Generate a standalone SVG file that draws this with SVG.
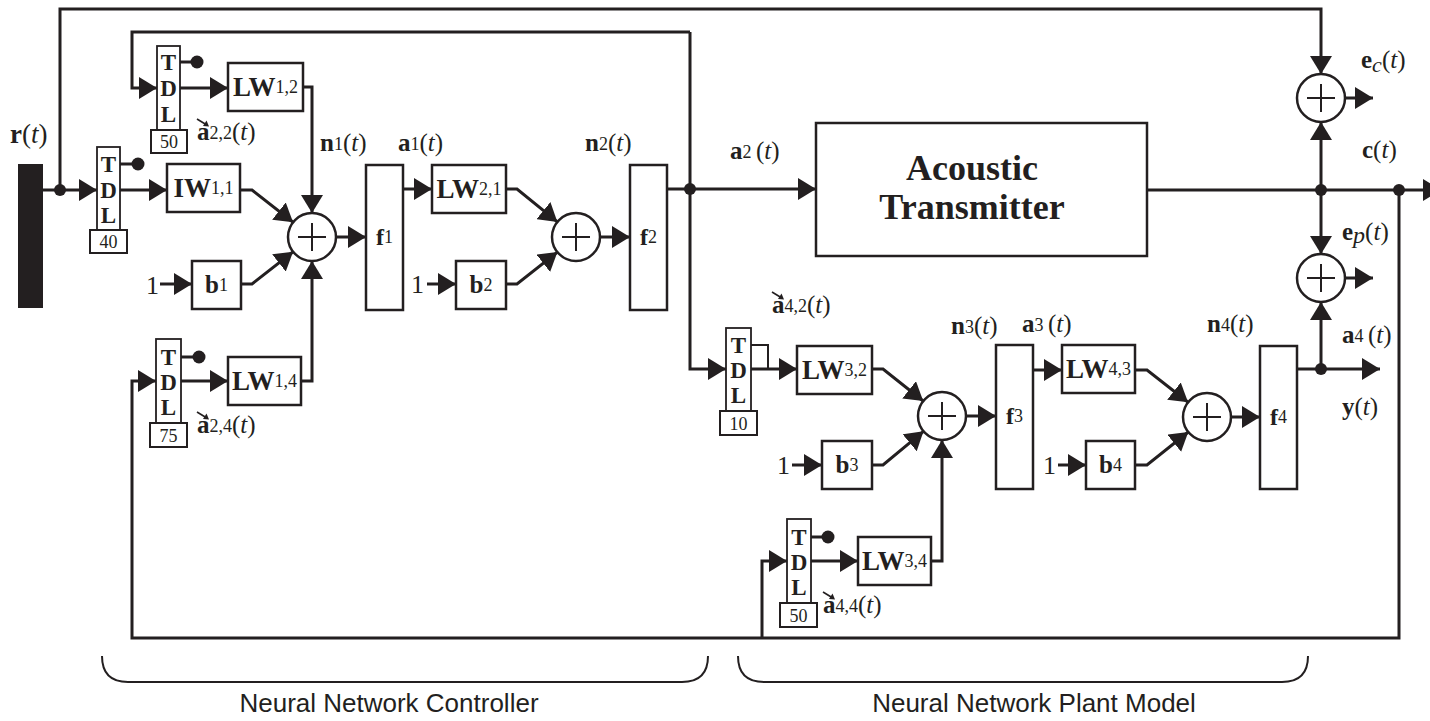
<svg xmlns="http://www.w3.org/2000/svg" xmlns:xlink="http://www.w3.org/1999/xlink" width="1430" height="721" viewBox="0 0 1430 721">
<style>
.ln{fill:none;stroke:#231f20;stroke-width:3}
.thin{fill:none;stroke:#231f20;stroke-width:2}
.bx{fill:#fff;stroke:#231f20;stroke-width:2.5}
.tdl{fill:#fff;stroke:#231f20;stroke-width:1.8}
.dot{fill:#231f20}
.s{font-family:"Liberation Serif","Times New Roman",serif;fill:#231f20}
.lb{font-size:25px}
.bl{font-weight:bold}
.box{font-size:27px;text-anchor:middle}
.sub{font-size:18px;font-weight:normal}
.tl{font-size:23px;font-weight:bold;text-anchor:middle}
.num{font-size:18px;text-anchor:middle}
.cap{font-family:"Liberation Sans",Arial,sans-serif;font-size:26px;fill:#231f20;text-anchor:middle}
</style>
<defs>
<marker id="ah" viewBox="0 0 18 22" refX="18" refY="11" markerWidth="18" markerHeight="22" markerUnits="userSpaceOnUse" orient="auto"><path d="M0,0L18,11L0,22z" fill="#231f20"/></marker>
<g id="vec"><path d="M0,-21 L9,-15.5" fill="none" stroke="#231f20" stroke-width="1.6"/><polygon points="12,-13.5 6,-14 9.5,-19.5" fill="#231f20"/></g>
<g id="plus"><circle r="24" class="bx"/><path d="M-14,0H14M0,-14V14" class="thin"/></g>
</defs>

<g id="connectors">
<path class="ln" d="M60,190V9H1321V74" marker-end="url(#ah)"/>
<path class="ln" d="M43,190H97" marker-end="url(#ah)"/>
<path class="ln" d="M690,32H132V88H157" marker-end="url(#ah)"/>
<path class="ln" d="M690,32V369H726" marker-end="url(#ah)"/>
<path class="ln" d="M180,62H197"/>
<path class="ln" d="M180,88H228" marker-end="url(#ah)"/>
<path class="ln" d="M303,87H312V213" marker-end="url(#ah)"/>
<path class="ln" d="M120,164H138"/>
<path class="ln" d="M120,190H167" marker-end="url(#ah)"/>
<path class="ln" d="M240,190H252L293.1,222.2" marker-end="url(#ah)"/>
<path class="ln" d="M160,284H192" marker-end="url(#ah)"/>
<path class="ln" d="M241,284H252L293.1,251.8" marker-end="url(#ah)"/>
<path class="ln" d="M181,357H199"/>
<path class="ln" d="M181,381H228" marker-end="url(#ah)"/>
<path class="ln" d="M301,381H312V261" marker-end="url(#ah)"/>
<path class="ln" d="M1399,190V638H132V381H156" marker-end="url(#ah)"/>
<path class="ln" d="M336,237H366" marker-end="url(#ah)"/>
<path class="ln" d="M403,189H432" marker-end="url(#ah)"/>
<path class="ln" d="M506,189H517L557.4,221.9" marker-end="url(#ah)"/>
<path class="ln" d="M427,284H456" marker-end="url(#ah)"/>
<path class="ln" d="M506,284H517L557.4,252.1" marker-end="url(#ah)"/>
<path class="ln" d="M600,237H630" marker-end="url(#ah)"/>
<path class="ln" d="M667,189H816" marker-end="url(#ah)"/>
<path class="ln" d="M1147,190H1441" marker-end="url(#ah)"/>
<path class="ln" d="M1321,190V122" marker-end="url(#ah)"/>
<path class="ln" d="M1345,98H1373" marker-end="url(#ah)"/>
<path class="ln" d="M1321,190V254" marker-end="url(#ah)"/>
<path class="ln" d="M1345,278H1373" marker-end="url(#ah)"/>
<path class="thin" d="M751,345H768V369"/>
<path class="ln" d="M751,369H797" marker-end="url(#ah)"/>
<path class="ln" d="M872,369H883L923.2,401" marker-end="url(#ah)"/>
<path class="ln" d="M792,465H822" marker-end="url(#ah)"/>
<path class="ln" d="M872,465H883L923.5,431.3" marker-end="url(#ah)"/>
<path class="ln" d="M762,638V561H787" marker-end="url(#ah)"/>
<path class="ln" d="M811,537H828"/>
<path class="ln" d="M811,561H858" marker-end="url(#ah)"/>
<path class="ln" d="M931,561H942V440" marker-end="url(#ah)"/>
<path class="ln" d="M966,416H996" marker-end="url(#ah)"/>
<path class="ln" d="M1033,370H1062" marker-end="url(#ah)"/>
<path class="ln" d="M1135,370H1147L1188.1,402.2" marker-end="url(#ah)"/>
<path class="ln" d="M1058,465H1086" marker-end="url(#ah)"/>
<path class="ln" d="M1135,465H1147L1188.3,432" marker-end="url(#ah)"/>
<path class="ln" d="M1231,417H1260" marker-end="url(#ah)"/>
<path class="ln" d="M1297,369H1380" marker-end="url(#ah)"/>
<path class="ln" d="M1321,369V302" marker-end="url(#ah)"/>
<circle class="dot" cx="60" cy="190" r="6"/>
<circle class="dot" cx="197" cy="62" r="6.5"/>
<circle class="dot" cx="138" cy="164" r="6.5"/>
<circle class="dot" cx="199" cy="357" r="6.5"/>
<circle class="dot" cx="690" cy="189" r="6"/>
<circle class="dot" cx="1321" cy="190" r="6"/>
<circle class="dot" cx="1399" cy="190" r="6"/>
<circle class="dot" cx="828" cy="537" r="6.5"/>
<circle class="dot" cx="1321" cy="369" r="6"/>
</g>

<g id="input-bar"><rect x="18" y="164" width="25" height="144" fill="#231f20"/></g>

<g id="tdl-r"><rect class="tdl" x="97" y="147" width="23" height="83"/><text class="s tl" x="108.5" y="172">T</text><text class="s tl" x="108.5" y="198">D</text><text class="s tl" x="108.5" y="223">L</text><rect class="bx" x="90" y="230" width="37" height="23" style="stroke-width:2"/><text class="s num" x="108.5" y="248">40</text></g>
<g id="tdl-a22"><rect class="tdl" x="157" y="46" width="23" height="84"/><text class="s tl" x="168.5" y="70">T</text><text class="s tl" x="168.5" y="96">D</text><text class="s tl" x="168.5" y="122">L</text><rect class="bx" x="151" y="130" width="36" height="23" style="stroke-width:2"/><text class="s num" x="169" y="148">50</text></g>
<g id="tdl-a24"><rect class="tdl" x="156" y="339" width="25" height="84"/><text class="s tl" x="168.5" y="365">T</text><text class="s tl" x="168.5" y="390">D</text><text class="s tl" x="168.5" y="415">L</text><rect class="bx" x="150" y="423" width="37" height="24" style="stroke-width:2"/><text class="s num" x="168.5" y="442">75</text></g>
<g id="tdl-a42"><rect class="tdl" x="726" y="328" width="25" height="83"/><text class="s tl" x="738.5" y="353">T</text><text class="s tl" x="738.5" y="378">D</text><text class="s tl" x="738.5" y="403">L</text><rect class="bx" x="720" y="411" width="37" height="24" style="stroke-width:2"/><text class="s num" x="738.5" y="430">10</text></g>
<g id="tdl-a44"><rect class="tdl" x="787" y="519" width="24" height="84"/><text class="s tl" x="799" y="545">T</text><text class="s tl" x="799" y="570">D</text><text class="s tl" x="799" y="595">L</text><rect class="bx" x="780" y="603" width="37" height="24" style="stroke-width:2"/><text class="s num" x="798.5" y="622">50</text></g>

<g id="LW12"><rect class="bx" x="228" y="63" width="75" height="48"/><text class="s box bl" x="265.5" y="96">LW<tspan class="sub" dy="-3">1,2</tspan></text></g>
<g id="IW11"><rect class="bx" x="167" y="164" width="73" height="48"/><text class="s box bl" x="203.5" y="197">IW<tspan class="sub" dy="-3">1,1</tspan></text></g>
<g id="b1"><rect class="bx" x="192" y="261" width="49" height="48"/><text class="s bl" x="216.5" y="293" style="font-size:25px;text-anchor:middle">b<tspan class="sub" dy="-2">1</tspan></text><text class="s" x="146" y="294" style="font-size:26px">1</text></g>
<g id="LW14"><rect class="bx" x="228" y="357" width="73" height="48"/><text class="s box bl" x="264.5" y="390">LW<tspan class="sub" dy="-3">1,4</tspan></text></g>
<g id="sum1" transform="translate(312,237)"><use xlink:href="#plus"/></g>
<g id="f1"><rect class="bx" x="366" y="165" width="37" height="145"/><text class="s bl" x="384.5" y="245" style="font-size:24px;text-anchor:middle">f<tspan class="sub" dy="-2">1</tspan></text></g>
<g id="LW21"><rect class="bx" x="432" y="165" width="74" height="48"/><text class="s box bl" x="469" y="198">LW<tspan class="sub" dy="-3">2,1</tspan></text></g>
<g id="b2"><rect class="bx" x="456" y="261" width="50" height="48"/><text class="s bl" x="481" y="293" style="font-size:25px;text-anchor:middle">b<tspan class="sub" dy="-2">2</tspan></text><text class="s" x="411" y="293" style="font-size:26px">1</text></g>
<g id="sum2" transform="translate(576,237)"><use xlink:href="#plus"/></g>
<g id="f2"><rect class="bx" x="630" y="165" width="37" height="145"/><text class="s bl" x="648.5" y="245" style="font-size:24px;text-anchor:middle">f<tspan class="sub" dy="-2">2</tspan></text></g>
<g id="acoustic"><rect class="bx" x="816" y="123" width="331" height="133"/><text class="s bl" x="972" y="180" style="font-size:36px;text-anchor:middle">Acoustic</text><text class="s bl" x="972" y="219" style="font-size:36px;text-anchor:middle">Transmitter</text></g>
<g id="sum-ec" transform="translate(1321,98)"><use xlink:href="#plus"/></g>
<g id="sum-ep" transform="translate(1321,278)"><use xlink:href="#plus"/></g>
<g id="LW32"><rect class="bx" x="797" y="346" width="75" height="48"/><text class="s box bl" x="834.5" y="379">LW<tspan class="sub" dy="-3">3,2</tspan></text></g>
<g id="b3"><rect class="bx" x="822" y="441" width="50" height="48"/><text class="s bl" x="847" y="473" style="font-size:25px;text-anchor:middle">b<tspan class="sub" dy="-2">3</tspan></text><text class="s" x="777" y="474" style="font-size:26px">1</text></g>
<g id="LW34"><rect class="bx" x="858" y="537" width="73" height="48"/><text class="s box bl" x="894.5" y="570">LW<tspan class="sub" dy="-3">3,4</tspan></text></g>
<g id="sum3" transform="translate(942,416)"><use xlink:href="#plus"/></g>
<g id="f3"><rect class="bx" x="996" y="345" width="37" height="144"/><text class="s bl" x="1014.5" y="424" style="font-size:24px;text-anchor:middle">f<tspan class="sub" dy="-2">3</tspan></text></g>
<g id="LW43"><rect class="bx" x="1062" y="345" width="73" height="48"/><text class="s box bl" x="1098.5" y="378">LW<tspan class="sub" dy="-3">4,3</tspan></text></g>
<g id="b4"><rect class="bx" x="1086" y="441" width="49" height="48"/><text class="s bl" x="1110.5" y="473" style="font-size:25px;text-anchor:middle">b<tspan class="sub" dy="-2">4</tspan></text><text class="s" x="1043" y="474" style="font-size:26px">1</text></g>
<g id="sum4" transform="translate(1207,417)"><use xlink:href="#plus"/></g>
<g id="f4"><rect class="bx" x="1260" y="346" width="37" height="143"/><text class="s bl" x="1278.5" y="425" style="font-size:24px;text-anchor:middle">f<tspan class="sub" dy="-2">4</tspan></text></g>

<g id="labels">
<text class="s lb" x="10" y="143" style="font-size:27px"><tspan class="bl">r</tspan>(<tspan font-style="italic">t</tspan>)</text>
<use xlink:href="#vec" x="197" y="140"/>
<text class="s lb" x="197" y="140"><tspan class="bl">a</tspan><tspan class="sub" dy="-1">2,2</tspan><tspan dy="1">(</tspan><tspan font-style="italic">t</tspan>)</text>
<use xlink:href="#vec" x="197" y="433"/>
<text class="s lb" x="197" y="433"><tspan class="bl">a</tspan><tspan class="sub" dy="-1">2,4</tspan><tspan dy="1">(</tspan><tspan font-style="italic">t</tspan>)</text>
<text class="s lb" x="320" y="151"><tspan class="bl">n</tspan><tspan class="sub" dy="-1">1</tspan><tspan dy="1">(</tspan><tspan font-style="italic">t</tspan>)</text>
<text class="s lb" x="398" y="151"><tspan class="bl">a</tspan><tspan class="sub" dy="-1">1</tspan><tspan dy="1">(</tspan><tspan font-style="italic">t</tspan>)</text>
<text class="s lb" x="585" y="151"><tspan class="bl">n</tspan><tspan class="sub" dy="-1">2</tspan><tspan dy="1">(</tspan><tspan font-style="italic">t</tspan>)</text>
<text class="s lb" x="730" y="159"><tspan class="bl">a</tspan><tspan class="sub" dy="-1">2 </tspan><tspan dy="1">(</tspan><tspan font-style="italic">t</tspan>)</text>
<text class="s lb" x="1361" y="68"><tspan class="bl">e</tspan><tspan font-style="italic" dy="4" style="font-size:22px">c</tspan><tspan dy="-4">(</tspan><tspan font-style="italic">t</tspan>)</text>
<text class="s lb" x="1362" y="158"><tspan class="bl">c</tspan>(<tspan font-style="italic">t</tspan>)</text>
<text class="s lb" x="1342" y="240"><tspan class="bl">e</tspan><tspan font-style="italic" dy="3" style="font-size:24px">p</tspan><tspan dy="-3">(</tspan><tspan font-style="italic">t</tspan>)</text>
<text class="s lb" x="1342" y="343"><tspan class="bl">a</tspan><tspan class="sub" dy="-1">4 </tspan><tspan dy="1">(</tspan><tspan font-style="italic">t</tspan>)</text>
<text class="s lb" x="1342" y="415"><tspan class="bl">y</tspan>(<tspan font-style="italic">t</tspan>)</text>
<text class="s lb" x="1207" y="332"><tspan class="bl">n</tspan><tspan class="sub" dy="-1">4</tspan><tspan dy="1">(</tspan><tspan font-style="italic">t</tspan>)</text>
<use xlink:href="#vec" x="772" y="313"/>
<text class="s lb" x="772" y="313"><tspan class="bl">a</tspan><tspan class="sub" dy="-1">4,2</tspan><tspan dy="1">(</tspan><tspan font-style="italic">t</tspan>)</text>
<text class="s lb" x="951" y="334"><tspan class="bl">n</tspan><tspan class="sub" dy="-1">3</tspan><tspan dy="1">(</tspan><tspan font-style="italic">t</tspan>)</text>
<text class="s lb" x="1022" y="332"><tspan class="bl">a</tspan><tspan class="sub" dy="-1">3 </tspan><tspan dy="1">(</tspan><tspan font-style="italic">t</tspan>)</text>
<use xlink:href="#vec" x="823" y="613"/>
<text class="s lb" x="823" y="613"><tspan class="bl">a</tspan><tspan class="sub" dy="-1">4,4</tspan><tspan dy="1">(</tspan><tspan font-style="italic">t</tspan>)</text>
</g>

<g id="controller-brace"><path class="thin" d="M102,656C102,672 110,682 128,682H682C700,682 708,672 708,656"/><text class="cap" x="389" y="712">Neural Network Controller</text></g>
<g id="plant-brace"><path class="thin" d="M738,656C738,672 746,682 764,682H1282C1300,682 1308,672 1308,656"/><text class="cap" x="1034" y="712">Neural Network Plant Model</text></g>
</svg>
